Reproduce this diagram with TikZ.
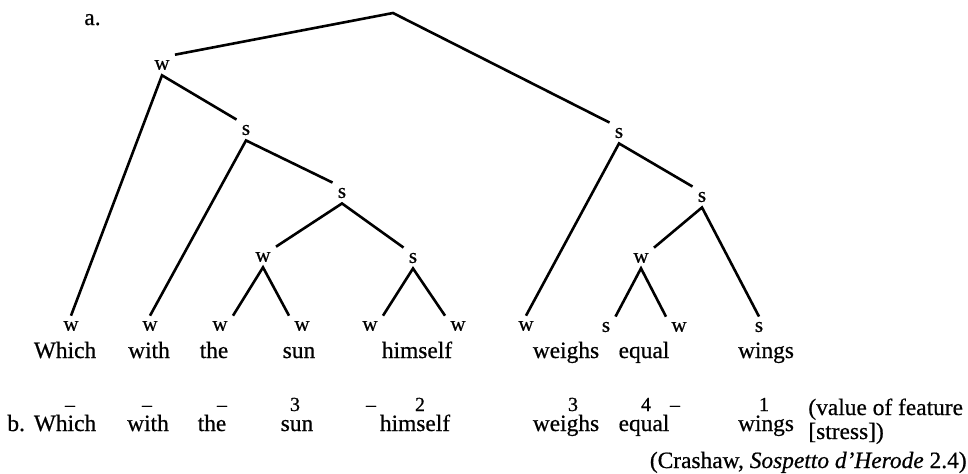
\documentclass[tikz,border=0pt]{standalone}
\usepackage{fontspec}
\setmainfont{Liberation Serif}[FakeBold=0.6]
\begin{document}
\begin{tikzpicture}[x=0.5pt,y=-0.5pt,
  lab/.style={font=\fontsize{10.5}{12}\selectfont, inner sep=2.5pt},
  word/.style={font=\fontsize{11.7}{13}\selectfont, anchor=base, inner sep=0pt},
  num/.style={font=\fontsize{10}{11}\selectfont, anchor=base, inner sep=0pt},
  edge/.style={line width=1.3pt, line join=miter}]
\useasboundingbox (0,0) rectangle (968,473);
% internal nodes
\coordinate (root) at (393,13);
\node[lab] (n1) at (162,65) {w};
\node[lab] (n2) at (619,133) {s};
\node[lab] (n3) at (246,130) {s};
\node[lab] (n4) at (342,193) {s};
\node[lab] (n5) at (263,257) {w};
\node[lab] (n6) at (413,258) {s};
\node[lab] (n7) at (702,197) {s};
\node[lab] (n8) at (641,258) {w};
% leaves
\node[lab] (l1) at (71,326) {w};
\node[lab] (l2) at (150,326) {w};
\node[lab] (l3) at (220,326) {w};
\node[lab] (l4) at (302,326) {w};
\node[lab] (l5) at (370,326) {w};
\node[lab] (l6) at (458,326) {w};
\node[lab] (l7) at (526,326) {w};
\node[lab] (l8) at (606,327) {s};
\node[lab] (l9) at (679,327) {w};
\node[lab] (l10) at (759,327) {s};
% edges
\draw[edge] (n1.north east) -- (root) -- (n2.north west);
\draw[edge] (l1.north) -- (n1.south) -- (n3.north west);
\draw[edge] (l2.north) -- (n3.south) -- (n4.north west);
\draw[edge] (n5.north east) -- (n4.south) -- (n6.north west);
\draw[edge] (l3.north east) -- (n5.south) -- (l4.north west);
\draw[edge] (l5.north east) -- (n6.south) -- (l6.north west);
\draw[edge] (l7.north) -- (n2.south) -- (n7.north west);
\draw[edge] (n8.north east) -- (n7.south) -- (l10.north);
\draw[edge] (l8.north east) -- (n8.south) -- (l9.north west);
% label a.
\node[word, anchor=base west] (la) at (84,25) {a.};
% row a words
\node[word] (wa1) at (65,358) {Which};
\node[word] (wa2) at (149,358) {with};
\node[word] (wa3) at (214,358) {the};
\node[word] (wa4) at (299,358) {sun};
\node[word] (wa5) at (417,358) {himself};
\node[word] (wa6) at (566,358) {weighs};
\node[word] (wa7) at (644,358) {equal};
\node[word] (wa8) at (766,358) {wings};
% row b
\node[word, anchor=base west] (lb) at (7,431) {b.};
\node[word] (wb1) at (65,431) {Which};
\node[word] (wb2) at (148,431) {with};
\node[word] (wb3) at (212,431) {the};
\node[word] (wb4) at (297,431) {sun};
\node[word] (wb5) at (415,431) {himself};
\node[word] (wb6) at (566,431) {weighs};
\node[word] (wb7) at (644,431) {equal};
\node[word] (wb8) at (766,431) {wings};
% stress values
\node[num] (v1) at (70,411) {–};
\node[num] (v2) at (147,411) {–};
\node[num] (v3) at (222,411) {–};
\node[num] (v4) at (295,411) {3};
\node[num] (v5) at (371,411) {–};
\node[num] (v6) at (420,411) {2};
\node[num] (v7) at (573,411) {3};
\node[num] (v8) at (646,411) {4};
\node[num] (v9) at (675,411) {–};
\node[num] (v10) at (764,411) {1};
\node[word, anchor=base west] (note1) at (808,415) {(value of feature};
\node[word, anchor=base west] (note2) at (808,439) {[stress])};
\node[word, anchor=base east] (src) at (967,468) {(Crashaw, \textit{Sospetto d'Herode} 2.4)};
\end{tikzpicture}
\end{document}
